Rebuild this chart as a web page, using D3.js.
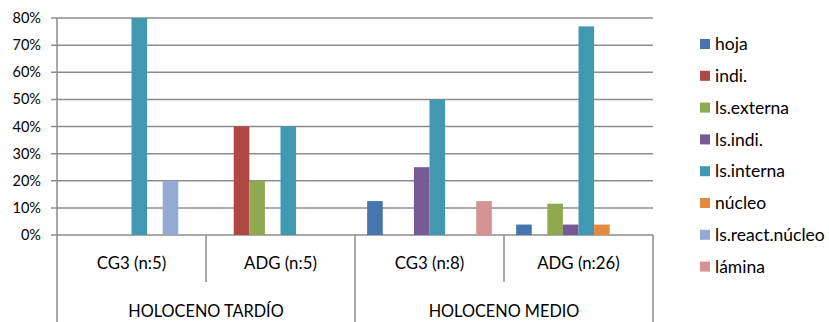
<!DOCTYPE html>
<html><head><meta charset="utf-8">
<script src="https://cdn.jsdelivr.net/npm/d3@7"></script>
<style>body{margin:0;background:#fff}svg{display:block;font-family:Lato,'Open Sans',sans-serif}</style>
</head><body><svg id="c" width="829" height="322"></svg>
<script>
const categories = ["CG3 (n:5)", "ADG (n:5)", "CG3 (n:8)", "ADG (n:26)"];
const groups = ["HOLOCENO TARDÍO", "HOLOCENO MEDIO"];
const groupOf = [0, 0, 1, 1];
const series = ["hoja", "indi.", "ls.externa", "ls.indi.", "ls.interna", "núcleo", "ls.react.núcleo", "lámina"];
const colors = ["#4775AD", "#AF4744", "#8EA94F", "#755A95", "#4199B1", "#E38A3E", "#94AAD4", "#D69393"];
const hoja = [0, 0, 12.5, 3.85];
const indi = [0, 40, 0, 0];
const lsExterna = [0, 20, 0, 11.54];
const lsIndi = [0, 0, 25, 3.85];
const lsInterna = [80, 40, 50, 76.92];
const nucleo = [0, 0, 0, 3.85];
const lsReactNucleo = [20, 0, 0, 0];
const lamina = [0, 0, 12.5, 0];
const yTicks = [0, 10, 20, 30, 40, 50, 60, 70, 80];
const values = [hoja, indi, lsExterna, lsIndi, lsInterna, nucleo, lsReactNucleo, lamina];

(function () {
const svg = d3.select("#c");
const mLeft = 57, mRight = 653, mTop = 18, mBottom = 235;
const grid = "#8c8c8c";
const x0 = d3.scaleBand().domain(categories).range([mLeft, mRight]).padding(0);
const x1 = d3.scaleBand().domain(series).range([0, x0.bandwidth()]).paddingInner(0).paddingOuter(0.78);
const y = d3.scaleLinear().domain([0, 80]).range([mBottom, mTop]);

svg.append("g").selectAll("line").data(yTicks).join("line")
  .attr("x1", mLeft - 6).attr("x2", mRight)
  .attr("y1", d => y(d)).attr("y2", d => y(d))
  .attr("stroke", grid).attr("stroke-width", 1.5);
svg.append("line").attr("x1", mLeft).attr("x2", mLeft).attr("y1", mTop).attr("y2", 322)
  .attr("stroke", grid).attr("stroke-width", 1.5);
svg.append("g").selectAll("text").data(yTicks).join("text")
  .attr("x", 41).attr("y", d => y(d)).attr("dy", "0.35em").attr("text-anchor", "end")
  .attr("font-size", 14.5).attr("fill", "#000").text(d => d + "%");

categories.forEach((c, ci) => {
  series.forEach((s, si) => {
    const v = values[si][ci];
    if (!v) return;
    svg.append("rect")
      .attr("x", x0(c) + x1(s)).attr("width", x1.bandwidth())
      .attr("y", y(v)).attr("height", y(0) - y(v))
      .attr("fill", colors[si]);
  });
});

categories.forEach((c, i) => {
  const b = x0(c) + x0.bandwidth();
  const isGroupEnd = i === categories.length - 1 || groupOf[i] !== groupOf[i + 1];
  svg.append("line").attr("x1", b).attr("x2", b).attr("y1", mBottom)
    .attr("y2", isGroupEnd ? 322 : 282)
    .attr("stroke", grid).attr("stroke-width", 1.5);
});
svg.append("g").selectAll("text").data(categories).join("text")
  .attr("x", d => x0(d) + x0.bandwidth() / 2).attr("y", 269)
  .attr("text-anchor", "middle").attr("font-size", 16.8).text(d => d);
groups.forEach((g, gi) => {
  const cs = categories.filter((c, i) => groupOf[i] === gi);
  const a = x0(cs[0]), b = x0(cs[cs.length - 1]) + x0.bandwidth();
  svg.append("text").attr("x", (a + b) / 2).attr("y", 317)
    .attr("text-anchor", "middle").attr("font-size", 16.3).text(g);
});

const leg = svg.append("g").selectAll("g").data(series).join("g")
  .attr("transform", (d, i) => `translate(700,${44 + i * 31.8})`);
leg.append("rect").attr("x", 0).attr("y", -5).attr("width", 10).attr("height", 10)
  .attr("fill", (d, i) => colors[i]);
leg.append("text").attr("x", 15).attr("y", 0).attr("dy", "0.35em")
  .attr("font-size", 17.5).text(d => d);
})();
</script></body></html>
